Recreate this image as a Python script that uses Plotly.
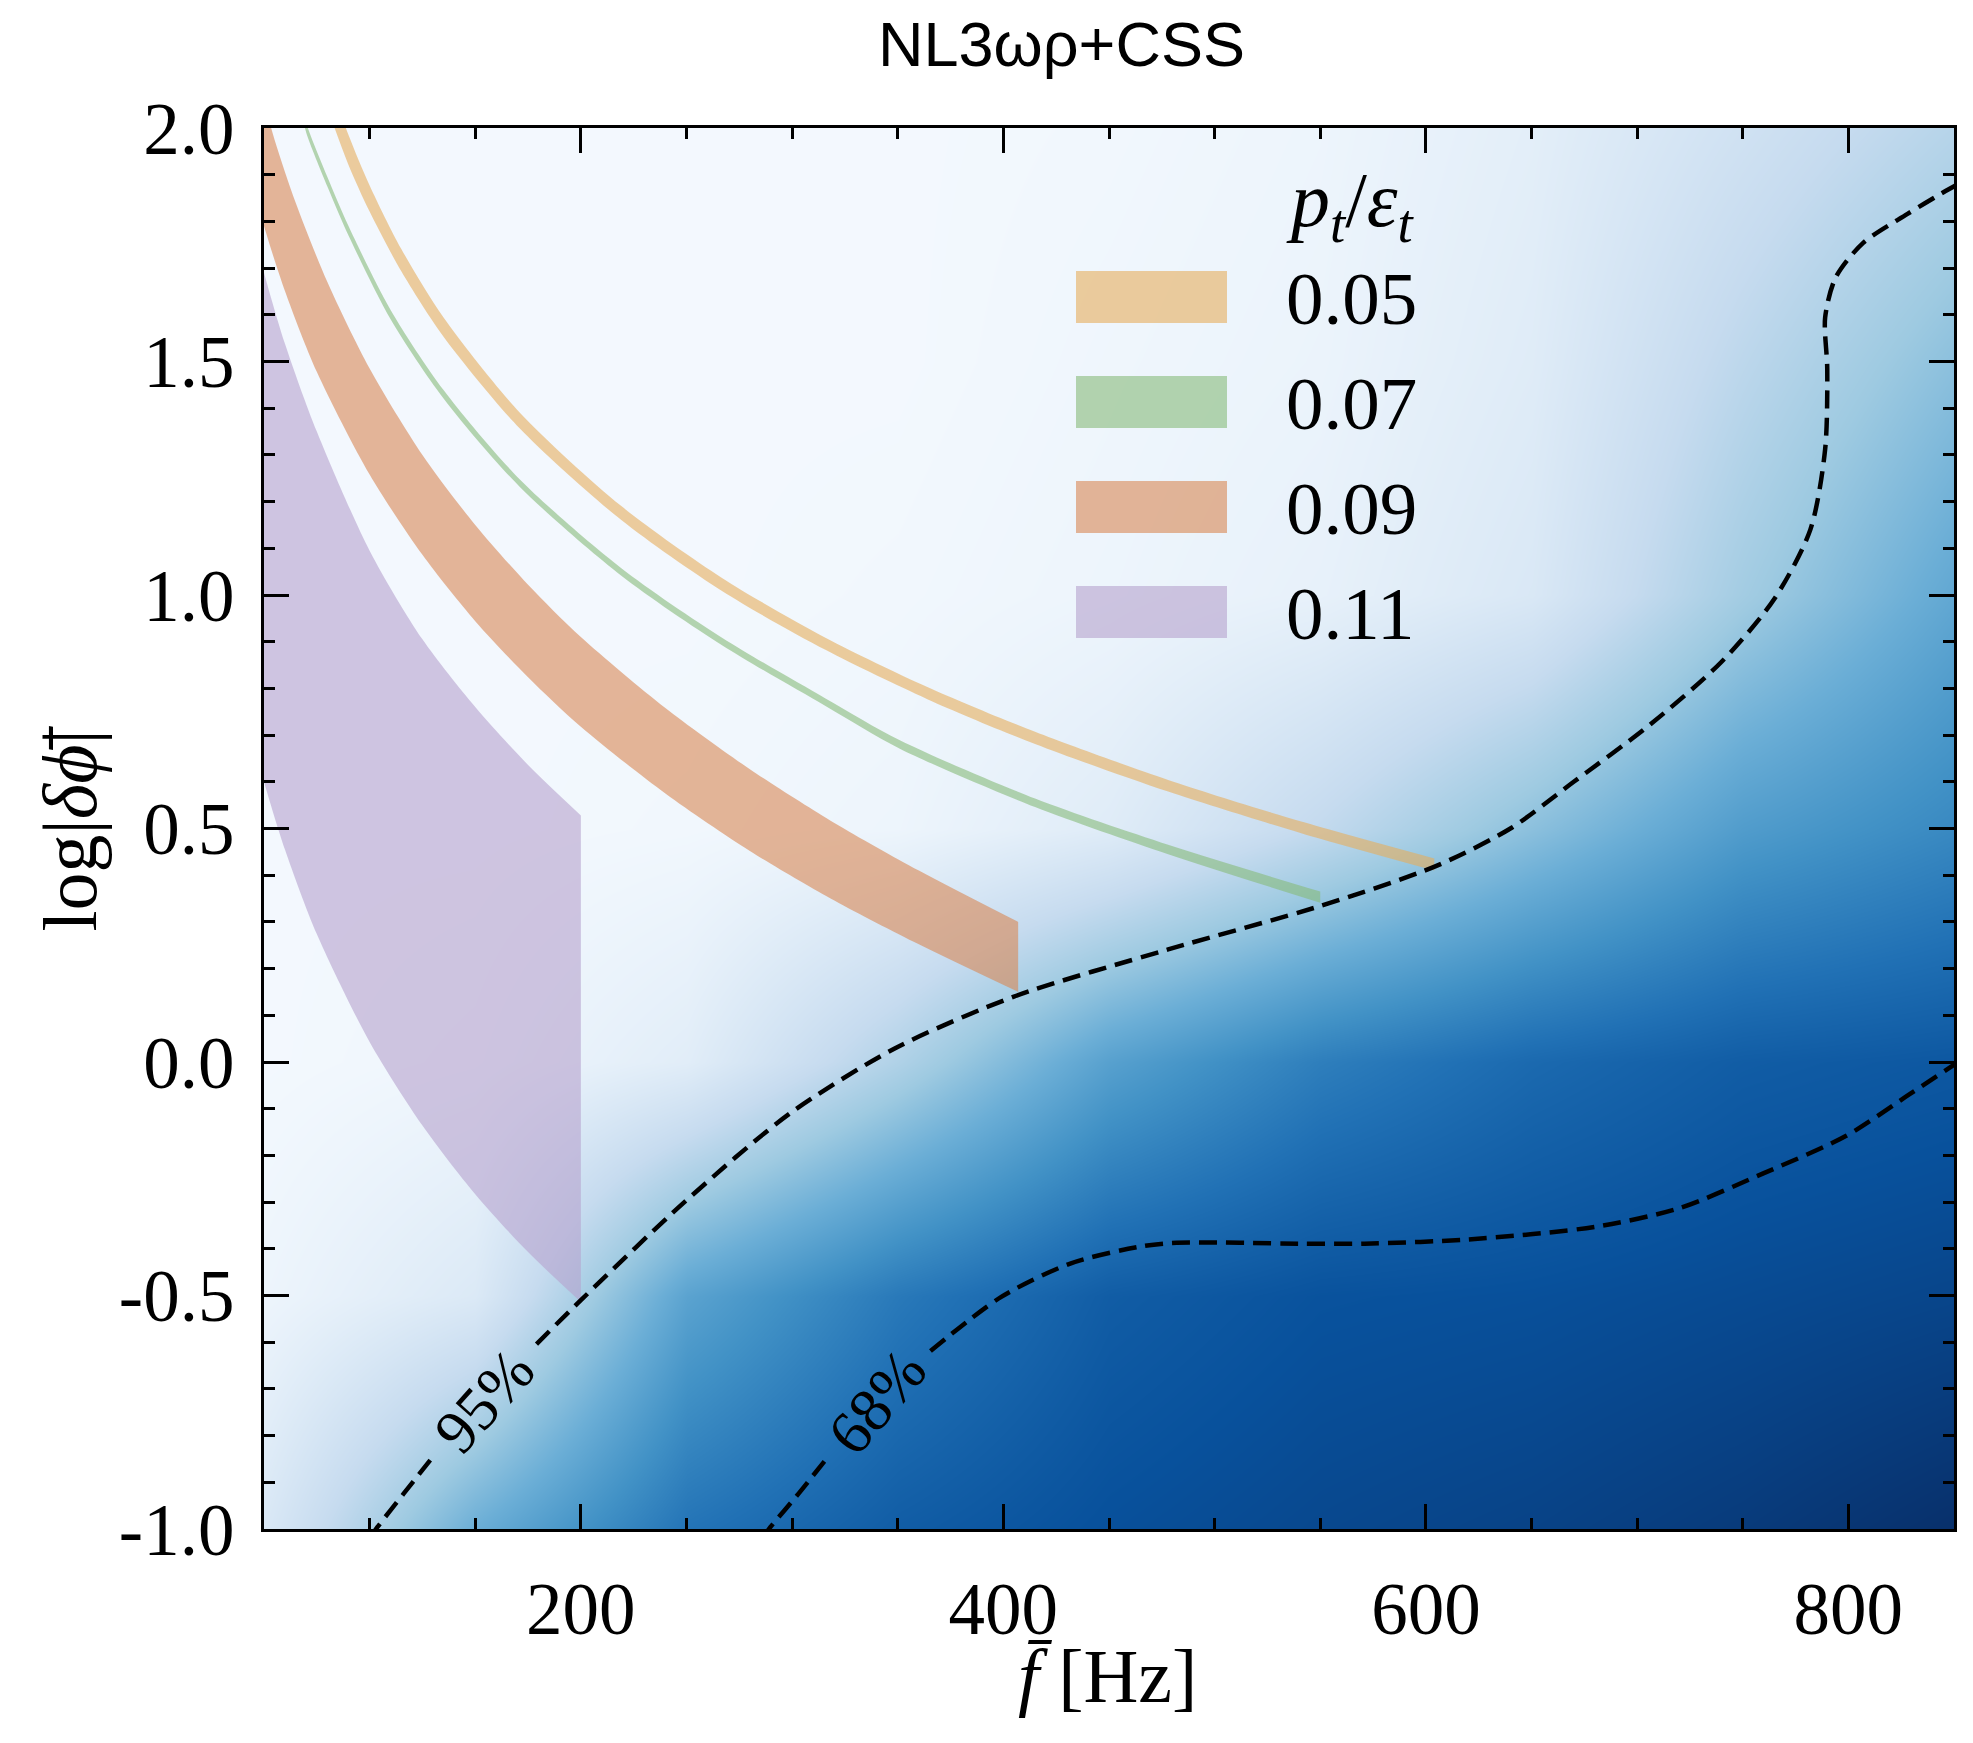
import plotly.graph_objects as go

# ---------------- data ----------------
# posterior density (fraction of colour map) on a coarse grid
dens_f = [50, 150, 250, 350, 450, 550, 650, 750, 850]
dens_phi = [-1.0, -0.5, 0.0, 0.5, 1.0, 1.5, 2.0]
dens_z = [
    [0.15, 0.50, 0.74, 0.83, 0.88, 0.91, 0.93, 0.96, 1.00],
    [0.05, 0.14, 0.55, 0.72, 0.83, 0.87, 0.88, 0.90, 0.92],
    [0.02, 0.04, 0.11, 0.32, 0.56, 0.70, 0.78, 0.83, 0.85],
    [0.02, 0.02, 0.03, 0.05, 0.12, 0.26, 0.42, 0.58, 0.66],
    [0.02, 0.02, 0.02, 0.03, 0.05, 0.08, 0.15, 0.36, 0.53],
    [0.02, 0.02, 0.02, 0.02, 0.04, 0.06, 0.12, 0.28, 0.42],
    [0.02, 0.02, 0.02, 0.02, 0.03, 0.05, 0.10, 0.20, 0.30],
]

# p_t/eps_t = 0.05 band
f_05 = [80, 90, 100, 115, 135, 171, 219, 267, 316, 364, 415, 478, 541, 604]
hi_05 = [2.110, 1.985, 1.877, 1.741, 1.594, 1.391, 1.191, 1.036, 0.908, 0.803, 0.707, 0.604, 0.515, 0.436]
lo_05 = [2.043, 1.921, 1.821, 1.693, 1.553, 1.357, 1.161, 1.008, 0.882, 0.777, 0.681, 0.579, 0.490, 0.410]

# p_t/eps_t = 0.07 band
f_07 = [68, 70, 80, 90, 110, 135, 171, 219, 267, 316, 351, 415, 478, 550]
hi_07 = [2.050, 2.010, 1.895, 1.790, 1.610, 1.439, 1.248, 1.058, 0.908, 0.778, 0.689, 0.564, 0.465, 0.365]
lo_07 = [2.030, 1.990, 1.875, 1.770, 1.590, 1.421, 1.232, 1.042, 0.892, 0.762, 0.671, 0.546, 0.445, 0.341]

# p_t/eps_t = 0.09 band
f_09_hi = [45, 55, 65, 80, 100, 125, 150, 175, 200, 240, 280, 320, 360, 407]
hi_09 = [2.140, 1.975, 1.840, 1.670, 1.485, 1.300, 1.150, 1.022, 0.910, 0.758, 0.627, 0.512, 0.410, 0.300]
f_09_lo = [35, 42, 50, 60, 75, 100, 125, 150, 175, 200, 240, 280, 320, 360, 407]
lo_09 = [2.069, 1.926, 1.790, 1.650, 1.478, 1.258, 1.086, 0.944, 0.824, 0.718, 0.575, 0.452, 0.346, 0.252, 0.150]

# p_t/eps_t = 0.11 region
f_11 = [44, 50, 60, 75, 100, 125, 150, 175, 200]
hi_11 = [1.797, 1.690, 1.537, 1.350, 1.095, 0.905, 0.760, 0.636, 0.528]
lo_11 = [0.703, 0.600, 0.454, 0.274, 0.043, -0.136, -0.283, -0.407, -0.514]

# credible contours (split where the inline labels sit)
c95a_f = [100, 103, 116, 129]
c95a_p = [-1.02, -1.0, -0.925, -0.851]
c95b_f = [179, 200, 249, 299, 349, 405, 478, 550, 605, 640, 670, 706, 740, 765, 782, 789, 790, 789, 794, 807, 828, 846, 852]
c95b_p = [-0.604, -0.51, -0.30, -0.11, 0.03, 0.140, 0.241, 0.334, 0.42, 0.50, 0.60, 0.722, 0.857, 0.992, 1.140, 1.312, 1.484, 1.594, 1.68, 1.754, 1.816, 1.865, 1.88]
c68a_f = [286, 289, 302, 316]
c68a_p = [-1.02, -1.0, -0.93, -0.851]
c68b_f = [365.5, 399, 432, 465, 482, 540, 571, 620, 680, 720, 760, 799, 829, 852]
c68b_p = [-0.619, -0.503, -0.431, -0.395, -0.387, -0.389, -0.389, -0.380, -0.353, -0.313, -0.238, -0.158, -0.069, 0.0]

legend_labels = ["0.05", "0.07", "0.09", "0.11"]
band_colors = ["rgba(230,174,92,0.6)", "rgba(135,187,122,0.6)",
               "rgba(216,135,84,0.6)", "rgba(181,162,205,0.6)"]

x_ticks = [200, 400, 600, 800]
y_ticks = [-1.0, -0.5, 0.0, 0.5, 1.0, 1.5, 2.0]
y_ticktext = ["-1.0", "-0.5", "0.0", "0.5", "1.0", "1.5", "2.0"]

# ---------------- figure ----------------
W, H = 1973, 1743
L, R, T, B = 264, 19, 128, 214
PW, PH = W - L - R, H - T - B

def px(X):
    return (X - L) / PW

def py(Y):
    return (H - B - Y) / PH

blues = [[0.0, "#f7fbff"], [0.125, "#deebf7"], [0.25, "#c6dbef"], [0.375, "#9ecae1"],
         [0.5, "#6baed6"], [0.625, "#4292c6"], [0.75, "#2171b5"], [0.875, "#08519c"],
         [1.0, "#08306b"]]

fig = go.Figure()
fig.add_trace(go.Heatmap(x=dens_f, y=dens_phi, z=dens_z, colorscale=blues, zmin=0, zmax=1,
                         zsmooth="best", showscale=False, hoverinfo="skip"))

def band(x_lo, y_lo, x_hi, y_hi, color):
    fig.add_trace(go.Scatter(x=x_lo, y=y_lo, mode="lines", hoverinfo="skip", showlegend=False,
                             line=dict(width=0, color=color, shape="spline", smoothing=0.8)))
    fig.add_trace(go.Scatter(x=x_hi, y=y_hi, mode="lines", fill="tonexty", fillcolor=color,
                             hoverinfo="skip", showlegend=False,
                             line=dict(width=0, color=color, shape="spline", smoothing=0.8)))

band(f_05, lo_05, f_05, hi_05, band_colors[0])
band(f_07, lo_07, f_07, hi_07, band_colors[1])
band(f_09_lo, lo_09, f_09_hi, hi_09, band_colors[2])
band(f_11, lo_11, f_11, hi_11, band_colors[3])

for xs, ys in [(c95a_f, c95a_p), (c95b_f, c95b_p), (c68a_f, c68a_p), (c68b_f, c68b_p)]:
    fig.add_trace(go.Scatter(x=xs, y=ys, mode="lines", showlegend=False, hoverinfo="skip",
                             line=dict(color="black", width=4.5, dash="18px,9px", shape="spline", smoothing=0.8)))

serif = "Liberation Serif, Times New Roman, serif"
ann = []
ann.append(dict(x=154, y=-0.725, xref="x", yref="y", text="95%", showarrow=False, textangle=-48,
                font=dict(family=serif, size=62, color="black")))
ann.append(dict(x=340, y=-0.728, xref="x", yref="y", text="68%", showarrow=False, textangle=-50,
                font=dict(family=serif, size=62, color="black")))

# legend drawn manually
box_top = [271, 376, 481, 586]
shapes = []
for i, lab in enumerate(legend_labels):
    y0 = box_top[i]
    shapes.append(dict(type="rect", xref="paper", yref="paper", x0=px(1076), x1=px(1227),
                       y0=py(y0 + 52), y1=py(y0), fillcolor=band_colors[i], line=dict(width=0), layer="above"))
    ann.append(dict(x=px(1284), y=py(y0 + 27), xref="paper", yref="paper", text=lab, showarrow=False,
                    xanchor="left", yanchor="middle", font=dict(family=serif, size=75, color="black")))
ann.append(dict(x=px(1284), y=py(205), xref="paper", yref="paper",
                text="<i>p</i><sub><i>t</i></sub>/<i>ε</i><sub><i>t</i></sub>", showarrow=False,
                xanchor="left", yanchor="middle", font=dict(family=serif, size=78, color="black")))

# axis titles
ann.append(dict(x=px(1107), y=py(1676), xref="paper", yref="paper", text="<i>f̄</i> [Hz]", showarrow=False,
                xanchor="center", yanchor="middle", font=dict(family=serif, size=76, color="black")))
ann.append(dict(x=px(69), y=0.5, xref="paper", yref="paper", text="log|<i>δϕ̄</i>|", showarrow=False,
                textangle=-90, xanchor="center", yanchor="middle", font=dict(family=serif, size=76, color="black")))

# title
ann.append(dict(x=px(1061), y=py(44), xref="paper", yref="paper", text="NL3ωρ+CSS", showarrow=False,
                xanchor="center", yanchor="middle",
                font=dict(family="Liberation Sans, Arial, sans-serif", size=63, color="black")))

axis_common = dict(showline=True, linecolor="black", linewidth=3, mirror="ticks", ticks="inside",
                   ticklen=25, tickwidth=3, tickcolor="black", showgrid=False, zeroline=False,
                   tickfont=dict(family=serif, size=73, color="black"))

fig.update_layout(
    width=W, height=H, margin=dict(l=L, r=R, t=T, b=B, pad=0),
    paper_bgcolor="white", plot_bgcolor="white", showlegend=False,
    annotations=ann, shapes=shapes,
    xaxis=dict(range=[50, 850], tickvals=x_ticks, ticktext=[str(v) for v in x_ticks],
               minor=dict(dtick=50, tick0=0, ticks="inside", ticklen=11, tickwidth=2.5, tickcolor="black", showgrid=False),
               ticklabelstandoff=14, **axis_common),
    yaxis=dict(range=[-1, 2], tickvals=y_ticks, ticktext=y_ticktext,
               minor=dict(dtick=0.1, tick0=0, ticks="inside", ticklen=11, tickwidth=2.5, tickcolor="black", showgrid=False),
               ticklabelstandoff=12, **axis_common),
)

fig.write_html("out.html")
